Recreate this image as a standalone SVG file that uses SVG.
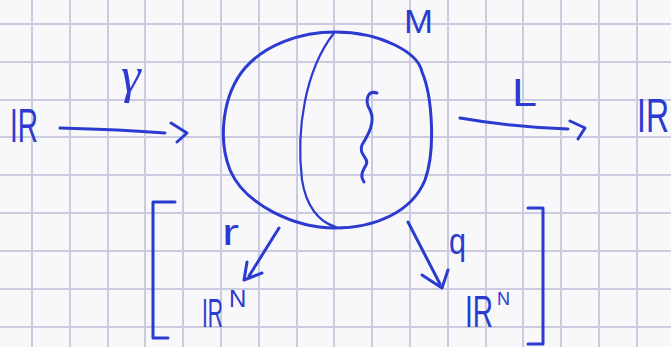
<svg xmlns="http://www.w3.org/2000/svg" width="671" height="347" viewBox="0 0 671 347">
<style>
.ink{fill:none;stroke:#2b3bd0;stroke-width:3;stroke-linecap:round;stroke-linejoin:round}
.thin{fill:none;stroke:#2b3bd0;stroke-width:2.2;stroke-linecap:round;stroke-linejoin:round}
.grid{fill:none;stroke:#cbcbe0;stroke-width:2}
text{font-family:"Liberation Sans",Arial,sans-serif;fill:#2b3bd0}
</style>
<rect width="671" height="347" fill="#f8f8fa"/>
<path class="grid" d="M32 0V347M70 0V347M108 0V347M145 0V347M183 0V347M221 0V347M259 0V347M297 0V347M334 0V347M372 0V347M410 0V347M448 0V347M486 0V347M523 0V347M561 0V347M599 0V347M637 0V347M0 24H671M0 62H671M0 100H671M0 137H671M0 175H671M0 213H671M0 251H671M0 289H671M0 327H671"/>
<g id="source-R"><text transform="translate(10 142) scale(1 1.7)" font-size="28">IR</text></g>
<g id="manifold-M">
<path class="ink" d="M335 32C380 32 418 52 422 72C432 95 436 150 425 180C412 212 375 228 335 228C295 228 245 205 230 170C218 140 222 95 245 68C265 45 300 32 335 32Z"/>
<path class="thin" d="M334 33C305 70 296 130 302 180C306 205 318 222 336 227"/>
<path class="ink" d="M377 93C368 90 364 100 370 110C376 122 368 135 362 145C358 155 370 158 366 165C362 172 360 176 364 182"/>
<text x="404" y="33" font-size="34" textLength="29" lengthAdjust="spacingAndGlyphs">M</text>
</g>
<g id="target-R"><text transform="translate(637 132) scale(1 1.5)" font-size="32">IR</text></g>
<g id="RN-left"><text transform="translate(202 327) scale(1 1.9)" font-size="21">IR</text><text x="229" y="307" font-size="24">N</text></g>
<g id="RN-right"><text transform="translate(465 327) scale(1 1.6)" font-size="28">IR</text><text x="497" y="305" font-size="18">N</text></g>
<g id="bracket-left"><path class="ink" d="M175 202H153V338H168"/></g>
<g id="bracket-right"><path class="ink" d="M528 208H543V344H528"/></g>
<g id="connectors">
<path class="ink" d="M60 128C100 129 140 131 165 133M171 123L187 133L177 142"/>
<text x="121" y="92" font-size="50" font-style="italic" style="font-family:'Liberation Serif',serif">γ</text>
<path class="ink" d="M460 118C500 125 540 128 568 129M570 121L585 128L578 139"/>
<text x="512" y="106" font-size="39" textLength="25" lengthAdjust="spacingAndGlyphs">L</text>
<path class="ink" d="M279 228L249 276M247 262L244 280L262 273"/>
<text x="222" y="245" font-size="36" textLength="17" lengthAdjust="spacingAndGlyphs">r</text>
<path class="ink" d="M408 222L440 284M422 275L442 288L448 270"/>
<text x="449" y="254" font-size="36" textLength="17" lengthAdjust="spacingAndGlyphs">q</text>
</g>
</svg>
